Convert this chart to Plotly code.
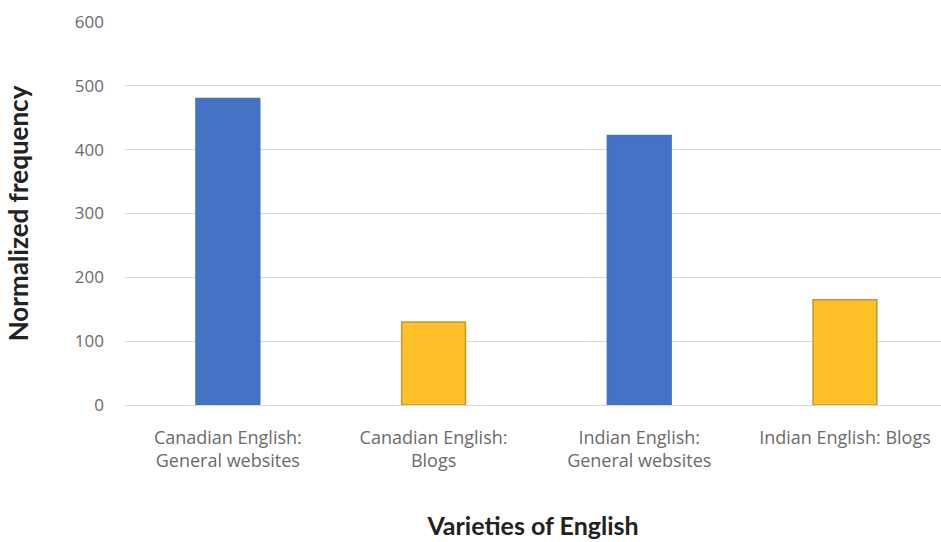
import plotly.graph_objects as go

categories = [
    "Canadian English:<br>General websites",
    "Canadian English:<br>Blogs",
    "Indian English:<br>General websites",
    "Indian English: Blogs",
]
values = [480, 130, 422, 165]
fill_colors = ["#4472C4", "#FFC02A", "#4472C4", "#FFC02A"]
line_colors = ["#4472C4", "#C9962A", "#4472C4", "#C9962A"]
y_ticks = [0, 100, 200, 300, 400, 500, 600]

fig = go.Figure(
    go.Bar(
        x=categories,
        y=values,
        marker=dict(color=fill_colors, line=dict(color=line_colors, width=1.5)),
        width=0.31,
    )
)

fig.update_layout(
    width=941,
    height=542,
    paper_bgcolor="white",
    plot_bgcolor="white",
    margin=dict(l=125, r=0, t=22, b=137),
    showlegend=False,
    font=dict(family="Open Sans", color="#595959"),
)

fig.update_xaxes(
    range=[-0.5, 3.467],
    tickfont=dict(family="Open Sans", size=18, color="#6b6b6b"),
    showgrid=False,
    showline=False,
    ticks="",
    ticklabelstandoff=20,
    title=dict(text="<b>Varieties of English</b>", font=dict(family="Lato", size=25, color="#222222"), standoff=46),
)
fig.update_yaxes(
    range=[0, 600],
    tickvals=y_ticks,
    tickfont=dict(family="Open Sans", size=17, color="#6b6b6b"),
    showgrid=True,
    gridcolor="#D9D9D9",
    gridwidth=1,
    zeroline=True,
    zerolinecolor="#D9D9D9",
    zerolinewidth=1,
    ticklabelstandoff=20,
    title=dict(text="<b>Normalized frequency</b>", font=dict(family="Lato", size=26, color="#222222"), standoff=38),
)

fig.write_html("out.html")
